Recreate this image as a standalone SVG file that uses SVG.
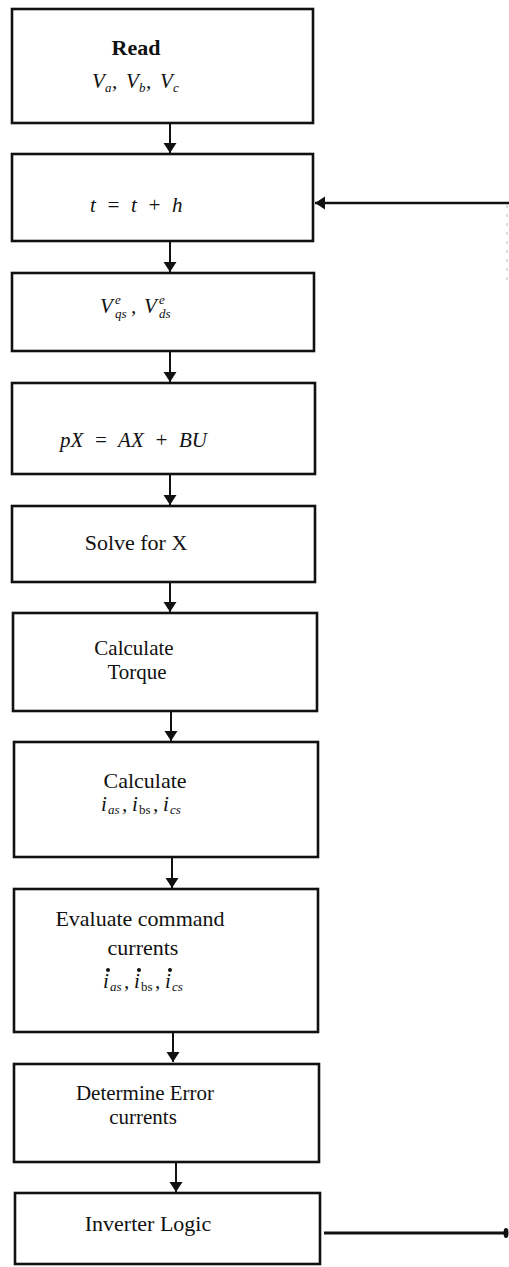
<svg xmlns="http://www.w3.org/2000/svg" width="509" height="1267" viewBox="0 0 509 1267">
<style>
.box{fill:#fff;stroke:#111;stroke-width:2.6}
.t{font-family:"Liberation Serif","Times New Roman",serif;font-size:22px;fill:#111}
.t2{font-size:21px}
.m{font-family:"Liberation Serif","Times New Roman",serif;font-size:21px;font-style:italic;fill:#111}
.s{font-size:13px}
.c{text-anchor:middle}
.ln{stroke:#111;stroke-width:2;fill:none}
</style>
<defs>
<marker id="ah" viewBox="0 0 10 15" refX="10" refY="7.5" markerWidth="10" markerHeight="15" markerUnits="userSpaceOnUse" orient="auto">
<path d="M0,1 L10,7.5 L0,14 Z" fill="#111"/>
</marker>
</defs>
<rect width="509" height="1267" fill="#fff"/>
<g id="connectors">
<line class="ln" x1="170" y1="124" x2="170" y2="153" marker-end="url(#ah)"/>
<line class="ln" x1="170" y1="242" x2="170" y2="272" marker-end="url(#ah)"/>
<line class="ln" x1="170" y1="352" x2="170" y2="382" marker-end="url(#ah)"/>
<line class="ln" x1="170" y1="475" x2="170" y2="505" marker-end="url(#ah)"/>
<line class="ln" x1="170" y1="582" x2="170" y2="612" marker-end="url(#ah)"/>
<line class="ln" x1="171" y1="711" x2="171" y2="741" marker-end="url(#ah)"/>
<line class="ln" x1="172" y1="857" x2="172" y2="888" marker-end="url(#ah)"/>
<line class="ln" x1="173" y1="1033" x2="173" y2="1062" marker-end="url(#ah)"/>
<line class="ln" x1="176" y1="1162" x2="176" y2="1192" marker-end="url(#ah)"/>
<line x1="509" y1="203" x2="315" y2="203" stroke="#111" stroke-width="2.4" marker-end="url(#ah)"/>
<line x1="507" y1="205" x2="507" y2="280" stroke="#bbb" stroke-width="1" stroke-dasharray="3,6"/>
<line x1="324" y1="1233" x2="505" y2="1233" stroke="#111" stroke-width="3"/>
<ellipse cx="506" cy="1233" rx="2.5" ry="5" fill="#111"/>
</g>
<g id="n1">
<rect class="box" x="12" y="9" width="301" height="114"/>
<text class="t c" x="136" y="55" font-weight="bold">Read</text>
<text class="m" y="88"><tspan x="92">V</tspan><tspan class="s" x="105" dy="4">a</tspan><tspan x="112" dy="-4">,</tspan><tspan x="126">V</tspan><tspan class="s" x="139" dy="4">b</tspan><tspan x="146" dy="-4">,</tspan><tspan x="160">V</tspan><tspan class="s" x="173" dy="4">c</tspan></text>
</g>
<g id="n2">
<rect class="box" x="12" y="154" width="301" height="87"/>
<text class="m" x="90" y="212" xml:space="preserve">t  =  t  +  h</text>
</g>
<g id="n3">
<rect class="box" x="12" y="273" width="302" height="78"/>
<text class="m" x="100" y="313">V</text>
<text class="m s" x="115" y="304">e</text>
<text class="m s" x="115" y="318">qs</text>
<text class="m" x="131" y="313">,</text>
<text class="m" x="144" y="313">V</text>
<text class="m s" x="159" y="304">e</text>
<text class="m s" x="159" y="318">ds</text>
</g>
<g id="n4">
<rect class="box" x="12" y="383" width="303" height="91"/>
<text class="m" x="60" y="447" xml:space="preserve">pX  =  AX  +  BU</text>
</g>
<g id="n5">
<rect class="box" x="12" y="506" width="303" height="76"/>
<text class="t c" x="136" y="550">Solve for X</text>
</g>
<g id="n6">
<rect class="box" x="13" y="613" width="304" height="98"/>
<text class="t t2 c" x="134" y="655">Calculate</text>
<text class="t t2 c" x="137" y="679">Torque</text>
</g>
<g id="n7">
<rect class="box" x="14" y="742" width="304" height="115"/>
<text class="t c" x="145" y="788">Calculate</text>
<text class="m" y="811"><tspan x="101">i</tspan><tspan class="s" x="108" dy="3">as</tspan><tspan x="122" dy="-3">,</tspan><tspan x="132">i</tspan><tspan class="s" x="139" dy="3" font-style="normal">bs</tspan><tspan x="153" dy="-3">,</tspan><tspan x="163">i</tspan><tspan class="s" x="170" dy="3">cs</tspan></text>
</g>
<g id="n8">
<rect class="box" x="14" y="889" width="304" height="143"/>
<text class="t c" x="140" y="926">Evaluate command</text>
<text class="t c" x="143" y="955">currents</text>
<circle cx="108" cy="970" r="2" fill="#111"/>
<circle cx="139" cy="970" r="2" fill="#111"/>
<circle cx="170" cy="970" r="2" fill="#111"/>
<text class="m" y="988"><tspan x="103">i</tspan><tspan class="s" x="110" dy="3">as</tspan><tspan x="124" dy="-3">,</tspan><tspan x="134">i</tspan><tspan class="s" x="141" dy="3" font-style="normal">bs</tspan><tspan x="155" dy="-3">,</tspan><tspan x="165">i</tspan><tspan class="s" x="172" dy="3">cs</tspan></text>
</g>
<g id="n9">
<rect class="box" x="14" y="1064" width="305" height="98"/>
<text class="t t2 c" x="145" y="1100">Determine Error</text>
<text class="t t2 c" x="143" y="1124">currents</text>
</g>
<g id="n10">
<rect class="box" x="15" y="1193" width="305" height="71"/>
<text class="t c" x="148" y="1231">Inverter Logic</text>
</g>
</svg>
